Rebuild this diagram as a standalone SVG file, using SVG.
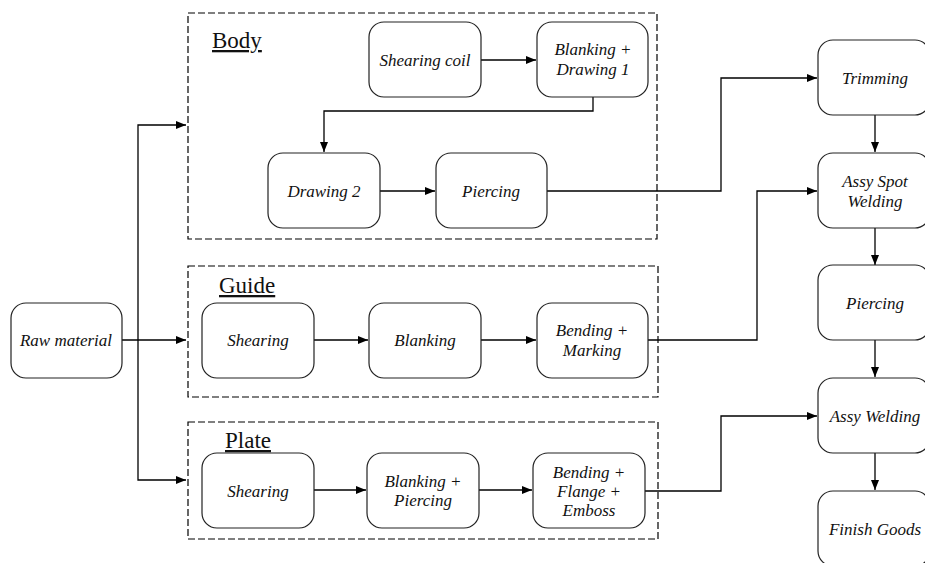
<svg xmlns="http://www.w3.org/2000/svg" width="925" height="563" viewBox="0 0 925 563">
<style>
.n rect{fill:#fff;stroke:#222;stroke-width:1.2}
.n text{font-family:"Liberation Serif","DejaVu Serif",serif;font-style:italic;font-size:17px;fill:#111;text-anchor:middle}
.grp{fill:none;stroke:#000;stroke-width:1.2;stroke-dasharray:7,3}
.lbl{font-family:"Liberation Serif","DejaVu Serif",serif;font-size:23px;fill:#111;text-decoration:underline}
#connectors path{fill:none;stroke:#000;stroke-width:1.3}
</style>
<defs>
<marker id="ah" markerWidth="10" markerHeight="8" refX="10" refY="4" orient="auto" markerUnits="userSpaceOnUse">
<path d="M0,0 L10,4 L0,8 Z" fill="#000"/>
</marker>
</defs>
<rect width="925" height="563" fill="#fff"/>
<g id="groups">
<rect class="grp" x="188" y="13" width="469" height="226"/>
<text class="lbl" x="212" y="48">Body</text>
<rect class="grp" x="188" y="266" width="470" height="131"/>
<text class="lbl" x="219" y="293">Guide</text>
<rect class="grp" x="188" y="422" width="470" height="117"/>
<text class="lbl" x="225" y="448">Plate</text>
</g>
<g id="connectors">
<path d="M122,340 H186" marker-end="url(#ah)"/>
<path d="M138,340 V125 H186" marker-end="url(#ah)"/>
<path d="M138,340 V480 H186" marker-end="url(#ah)"/>
<path d="M481,60 H536" marker-end="url(#ah)"/>
<path d="M593,97 V111 H324 V152" marker-end="url(#ah)"/>
<path d="M380,191 H435" marker-end="url(#ah)"/>
<path d="M547,191 H721 V78 H817" marker-end="url(#ah)"/>
<path d="M314,340 H368" marker-end="url(#ah)"/>
<path d="M481,340 H536" marker-end="url(#ah)"/>
<path d="M648,340 H757 V191 H817" marker-end="url(#ah)"/>
<path d="M314,490 H366" marker-end="url(#ah)"/>
<path d="M479,490 H532" marker-end="url(#ah)"/>
<path d="M645,491 H721 V416 H817" marker-end="url(#ah)"/>
<path d="M875,115 V152" marker-end="url(#ah)"/>
<path d="M875,228 V265" marker-end="url(#ah)"/>
<path d="M875,340 V377" marker-end="url(#ah)"/>
<path d="M875,453 V490" marker-end="url(#ah)"/>
</g>
<g id="raw" class="n"><rect x="11" y="303" width="111" height="75" rx="15"/><text x="66" y="346">Raw material</text></g>
<g id="shearing-coil" class="n"><rect x="369" y="22" width="112" height="75" rx="15"/><text x="425" y="66">Shearing coil</text></g>
<g id="blanking-drawing1" class="n"><rect x="537" y="22" width="111" height="75" rx="15"/><text x="593" y="55">Blanking +</text><text x="593" y="75">Drawing 1</text></g>
<g id="drawing2" class="n"><rect x="268" y="153" width="112" height="75" rx="15"/><text x="324" y="197">Drawing 2</text></g>
<g id="body-piercing" class="n"><rect x="436" y="153" width="111" height="75" rx="15"/><text x="491" y="197">Piercing</text></g>
<g id="guide-shearing" class="n"><rect x="202" y="303" width="112" height="75" rx="15"/><text x="258" y="346">Shearing</text></g>
<g id="guide-blanking" class="n"><rect x="369" y="303" width="112" height="75" rx="15"/><text x="425" y="346">Blanking</text></g>
<g id="bending-marking" class="n"><rect x="537" y="303" width="111" height="75" rx="15"/><text x="592" y="336">Bending +</text><text x="592" y="356">Marking</text></g>
<g id="plate-shearing" class="n"><rect x="202" y="453" width="112" height="75" rx="15"/><text x="258" y="497">Shearing</text></g>
<g id="blanking-piercing" class="n"><rect x="367" y="453" width="112" height="75" rx="15"/><text x="423" y="487">Blanking +</text><text x="423" y="506">Piercing</text></g>
<g id="bending-flange-emboss" class="n"><rect x="533" y="453" width="112" height="75" rx="15"/><text x="589" y="478">Bending +</text><text x="589" y="497">Flange +</text><text x="589" y="516">Emboss</text></g>
<g id="trimming" class="n"><rect x="818" y="40" width="112" height="75" rx="15"/><text x="875" y="84">Trimming</text></g>
<g id="assy-spot-welding" class="n"><rect x="818" y="153" width="112" height="75" rx="15"/><text x="875" y="187">Assy Spot</text><text x="875" y="207">Welding</text></g>
<g id="right-piercing" class="n"><rect x="818" y="265" width="112" height="75" rx="15"/><text x="875" y="309">Piercing</text></g>
<g id="assy-welding" class="n"><rect x="818" y="378" width="112" height="75" rx="15"/><text x="875" y="422">Assy Welding</text></g>
<g id="finish-goods" class="n"><rect x="818" y="491" width="112" height="75" rx="15"/><text x="875" y="535">Finish Goods</text></g>
</svg>
